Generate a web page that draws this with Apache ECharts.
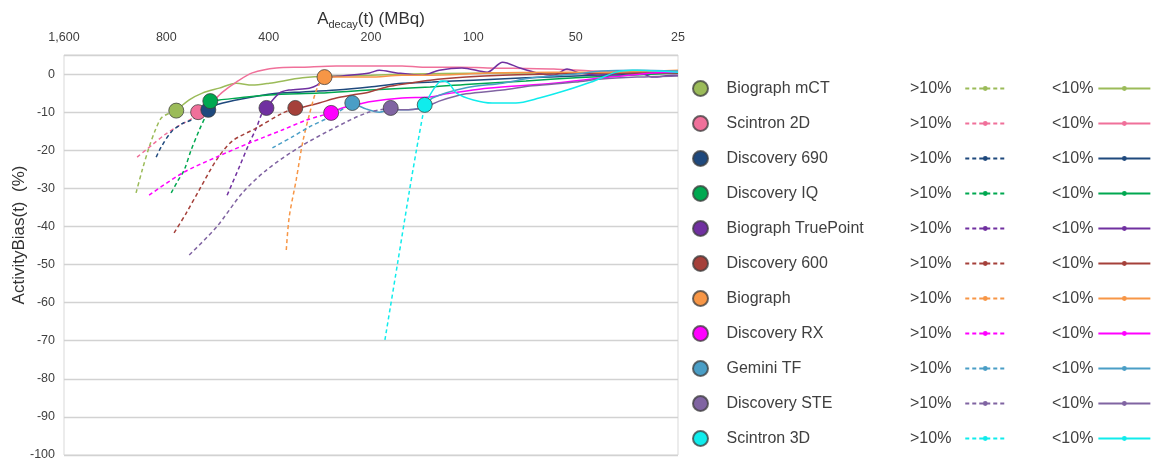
<!DOCTYPE html>
<html><head><meta charset="utf-8">
<script src="https://cdn.jsdelivr.net/npm/echarts@6/dist/echarts.min.js"></script>
<style>html,body{margin:0;padding:0;background:#fff;}#c{width:1151px;height:465px;}</style>
</head><body><div id="c"></div>
<script>
const devices = ['Biograph mCT','Scintron 2D','Discovery 690','Discovery IQ','Biograph TruePoint','Discovery 600','Biograph','Discovery RX','Gemini TF','Discovery STE','Scintron 3D'];
const colors = ['#9BBB59','#F0709A','#1F497D','#00A850','#7030A0','#A5403A','#F79646','#FF00FF','#4A9EC6','#8064A2','#10ECEC'];
const xTickLabels = ['25','50','100','200','400','800','1,600'];
// point where |bias| first falls under 10% (MBq, %)
const markerMBq  = [748, 645, 602, 594, 406, 334, 274, 262, 227, 175, 139];
const markerBias = [-9.6, -10.0, -9.4, -7.1, -8.9, -8.9, -0.8, -10.2, -7.6, -8.9, -8.1];

// >10% (dashed) parts: [MBq, bias %]
const hiBiographMCT = [[982,-31.2],[942,-25.2],[899,-19.2],[860,-14.5],[823,-11.3]];
const hiScintron2D = [[975,-21.8],[881,-18.6],[805,-15.8],[730,-13.4],[670,-11.6]];
const hiDiscovery690 = [[857,-21.8],[829,-19.2],[774,-15.2],[718,-13.0],[676,-12.1],[640,-10.8]];
const hiDiscoveryIQ = [[774,-31.2],[743,-28.3],[709,-25.2],[676,-19.9],[640,-14.7],[610,-10.5]];
const hiTruePoint = [[530,-31.8],[488,-24.4],[456,-18.1],[435,-14.2],[418,-10.2]];
const hiDiscovery600 = [[759,-41.7],[699,-36.5],[640,-30.4],[570,-22.6],[512,-17.6],[435,-14.2],[365,-10.3]];
const hiBiograph = [[355,-46.2],[348,-37.5],[332,-27.8],[318,-18.1],[304,-10.8],[288,-3.7]];
const hiDiscoveryRX = [[899,-31.8],[718,-26.0],[570,-21.8],[456,-18.1],[365,-14.7],[310,-12.1]];
const hiGeminiTF = [[390,-19.4],[341,-16.5],[304,-13.9],[265,-11.3]];
const hiDiscoverySTE = [[685,-47.5],[570,-40.2],[478,-31.2],[406,-25.2],[325,-19.2],[253,-13.9],[206,-10.2]];
const hiScintron3D = [[182,-69.8],[167,-49.6],[154,-30.4],[147,-19.9]];

// <10% (solid) parts: [MBq, bias %]
const loBiographMCT = [[685,-6.8],[627,-5.0],[559,-3.7],[498,-2.4],[447,-2.9],[398,-2.4],[318,-1.0],[262,-0.5],[200,-0.3],[150,0.0],[100,0.2],[60,0.3],[40,0.4],[25,0.3]];
const loScintron2D = [[598,-8.1],[548,-4.8],[498,-2.1],[447,0.3],[380,1.6],[318,1.8],[253,2.1],[202,2.1],[162,2.1],[141,1.8],[110,1.8],[91,1.6],[58,1.3],[45,0.8],[33,0.5],[25,0.5]];
const loDiscovery690 = [[570,-8.1],[498,-6.8],[447,-6.0],[372,-5.0],[318,-4.7],[253,-4.2],[202,-3.4],[162,-2.4],[132,-2.1],[100,-1.6],[70,-1.0],[50,-0.5],[35,0.0],[25,0.3]];
const loDiscoveryIQ = [[559,-6.8],[398,-5.5],[284,-5.0],[202,-4.2],[134,-3.4],[100,-2.6],[70,-1.8],[50,-1.0],[35,-0.3],[25,0.3]];
const loTruePoint = [[372,-5.0],[348,-4.2],[304,-3.7],[288,-2.9],[271,-1.0],[243,-0.5],[202,0.3],[189,1.0],[168,0.3],[141,-0.3],[126,1.0],[108,1.6],[91,0.5],[82,3.1],[73,1.6],[65,0.3],[58,-0.3],[53,1.3],[48.6,0.3],[41.6,-0.3],[33,0.5],[29.6,-0.8],[25.9,-0.3],[25,-0.3]];
const loDiscovery600 = [[318,-8.7],[284,-7.6],[253,-6.3],[227,-5.5],[202,-4.7],[180,-3.4],[154,-2.4],[134,-1.6],[105,-0.8],[82,-0.3],[60,0.0],[40,0.3],[25,0.3]];
const loBiograph = [[253,-0.8],[202,-0.8],[162,-0.3],[134,-0.3],[105,0.0],[91,0.3],[58,0.5],[43,0.5],[25,1.0]];
const loDiscoveryRX = [[243,-8.9],[221,-8.1],[202,-7.3],[162,-6.3],[134,-6.0],[120,-5.2],[91,-3.7],[58,-2.4],[41.6,-1.0],[29.6,0.3],[25,0.5]];
const loGeminiTF = [[206,-9.2],[189,-10.0],[176,-9.4],[162,-9.4],[141,-8.7],[132,-6.3],[105,-3.6],[82,-2.4],[67,-1.0],[50,0.0],[42,0.8],[33,1.0],[25,0.8]];
const loDiscoverySTE = [[162,-9.4],[141,-8.9],[126,-7.1],[105,-5.2],[82,-4.2],[67,-3.1],[50,-2.1],[42,-1.3],[33,-0.8],[25,-0.5]];
const loScintron3D = [[132,-4.5],[126,-2.1],[123,-1.8],[118,-2.4],[112,-5.0],[100,-6.8],[88,-7.6],[75,-7.6],[64,-6.3],[53,-4.2],[45,-2.1],[38,0.5],[34,1.0],[25,0.5]];

const hiSets = [hiBiographMCT,hiScintron2D,hiDiscovery690,hiDiscoveryIQ,hiTruePoint,hiDiscovery600,hiBiograph,hiDiscoveryRX,hiGeminiTF,hiDiscoverySTE,hiScintron3D];
const loSets = [loBiographMCT,loScintron2D,loDiscovery690,loDiscoveryIQ,loTruePoint,loDiscovery600,loBiograph,loDiscoveryRX,loGeminiTF,loDiscoverySTE,loScintron3D];

const tx = m => Math.log2(m / 25);
const toXY = arr => arr.map(p => [tx(p[0]), p[1]]);

const series = [];
devices.forEach((name, i) => {
  const mk = [markerMBq[i], markerBias[i]];
  series.push({
    name: name + ' >10%', type: 'line', smooth: 0.3, symbol: 'circle', symbolSize: 4, showSymbol: false,
    color: colors[i], lineStyle: {width: 1.5, type: [4, 3], color: colors[i]}, z: 2,
    data: toXY(hiSets[i].concat([mk]))
  });
  series.push({
    name: name + ' <10%', type: 'line', smooth: 0.3, symbol: 'circle', symbolSize: 4, showSymbol: false,
    color: colors[i], lineStyle: {width: 1.5, type: 'solid', color: colors[i]}, z: 2,
    data: toXY([mk].concat(loSets[i]))
  });
});
devices.forEach((name, i) => {
  series.push({
    name: name, type: 'scatter', symbol: 'circle', symbolSize: 15, z: 5,
    itemStyle: {color: colors[i], borderColor: 'rgba(60,60,60,0.75)', borderWidth: 1, opacity: 1},
    data: toXY([[markerMBq[i], markerBias[i]]])
  });
});

const legendText = {fontSize: 16, color: '#404040', fontFamily: 'Liberation Sans, Arial, sans-serif', lineHeight: 15};
const option = {
  animation: false,
  textStyle: {fontFamily: 'Liberation Sans, Arial, sans-serif'},
  grid: {left: 64, top: 55, width: 614, height: 400, show: true, borderColor: '#d9d9d9', borderWidth: 1,
         containLabel: false, outerBoundsMode: 'none'},
  xAxis: {
    type: 'value', position: 'top', min: 0, max: 6, interval: 1, inverse: true,
    axisLine: {show: false}, axisTick: {show: false}, splitLine: {show: false},
    axisLabel: {formatter: v => xTickLabels[Math.round(v)], fontSize: 12.5, color: '#404040', margin: 11},
    name: '{a|A}{s|decay}{a|(t) (MBq)}', nameLocation: 'middle', nameGap: 25, nameMoveOverlap: false,
    nameTextStyle: {rich: {
      a: {fontSize: 17, color: '#333', lineHeight: 22, verticalAlign: 'middle'},
      s: {fontSize: 11, color: '#333', lineHeight: 11, verticalAlign: 'bottom'}
    }}
  },
  yAxis: {
    type: 'value', min: -100, max: 5, interval: 10,
    axisLine: {show: false}, axisTick: {show: false},
    splitLine: {lineStyle: {color: '#d2d2d2', width: 1.3}},
    axisLabel: {formatter: v => v > 0 ? '' : String(v), fontSize: 12.5, color: '#404040', margin: 9},
    name: 'ActivityBias(t)  (%)', nameLocation: 'middle', nameGap: 36, nameMoveOverlap: false,
    nameTextStyle: {fontSize: 17, color: '#333', padding: [0, 0, 0, 40]}
  },
  legend: [
    {
      orient: 'vertical', left: 692, top: 80, height: 380, padding: 0, itemGap: 18, itemWidth: 42, itemHeight: 15,
      icon: 'circle', selectedMode: false, textStyle: legendText,
      data: devices
    },
    {
      orient: 'vertical', left: 910, top: 80.5, height: 380, padding: 0, itemGap: 19, itemWidth: 40, itemHeight: 6,
      align: 'right', selectedMode: false, textStyle: legendText,
      formatter: () => '>10%  ',
      data: devices.map(d => d + ' >10%')
    },
    {
      orient: 'vertical', left: 1052, top: 80.5, height: 380, padding: 0, itemGap: 19, itemWidth: 52, itemHeight: 6,
      align: 'right', selectedMode: false, textStyle: legendText,
      formatter: () => '<10%',
      data: devices.map(d => d + ' <10%')
    }
  ],
  series: series
};
const chart = echarts.init(document.getElementById('c'), null, {renderer: 'canvas'});
chart.setOption(option);
</script>
</body></html>
